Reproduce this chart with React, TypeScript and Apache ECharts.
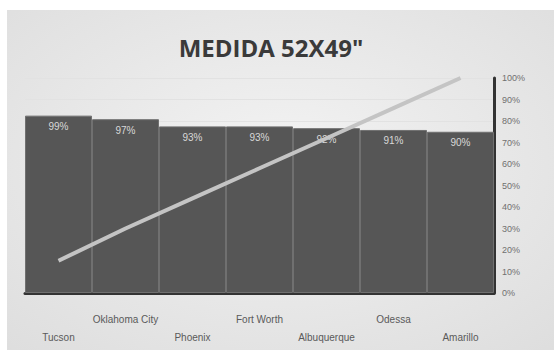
import React, { useEffect, useRef } from "react";
import * as echarts from "echarts";

const categories = ["Tucson", "Oklahoma City", "Phoenix", "Fort Worth", "Albuquerque", "Odessa", "Amarillo"];
const barValues = [99, 97, 93, 93, 92, 91, 90];
const cumulativePct = [15, 30, 44, 58, 72, 86, 100];
const titleText = 'MEDIDA 52X49"';

export default function App() {
  const ref = useRef<HTMLDivElement>(null);
  useEffect(() => {
    if (!ref.current) return;
    const chart = echarts.init(ref.current, null, { renderer: "svg" });
    chart.setOption({
      animation: false,
      backgroundColor: {
        type: "radial",
        x: 0.5,
        y: 0.45,
        r: 0.8,
        colorStops: [
          { offset: 0, color: "#f3f3f3" },
          { offset: 1, color: "#dcdcdc" },
        ],
      },
      title: {
        text: titleText,
        left: 259,
        top: 20,
        textAlign: "center",
        textStyle: {
          fontFamily: "Open Sans",
          fontWeight: "bold",
          fontSize: 24,
          color: "#3a3a3a",
        },
      },
      grid: { left: 18, right: 60, top: 68, bottom: 57, outerBoundsMode: "none", containLabel: false },
      xAxis: {
        type: "category",
        data: categories,
        axisLine: { show: true, lineStyle: { color: "#333", width: 3 } },
        axisTick: { show: false },
        axisLabel: {
          interval: 0,
          margin: 21,
          formatter: (v: string, i: number) => (i % 2 === 0 ? `{low|${v}}` : `{high|${v}}`),
          rich: {
            low: { fontSize: 10, color: "#5a5a5a", fontFamily: "Liberation Sans", padding: [18, 0, 0, 0] },
            high: { fontSize: 10, color: "#5a5a5a", fontFamily: "Liberation Sans" },
          },
        },
      },
      yAxis: [
        {
          type: "value",
          min: 0,
          max: 120,
          show: false,
          splitLine: { show: false },
        },
        {
          type: "value",
          min: 0,
          max: 100,
          interval: 10,
          position: "right",
          axisLine: { show: true, lineStyle: { color: "#333", width: 3 } },
          axisTick: { show: false },
          splitLine: { show: true, lineStyle: { color: "#e2e2e2", width: 1 } },
          axisLabel: {
            formatter: "{value}%",
            fontSize: 9,
            color: "#707070",
            margin: 8,
            fontFamily: "Liberation Sans",
          },
        },
      ],
      series: [
        {
          type: "bar",
          data: barValues,
          yAxisIndex: 0,
          barCategoryGap: "0%",
          itemStyle: { color: "#565656", borderColor: "#707070", borderWidth: 1 },
          label: {
            show: true,
            position: "insideTop",
            distance: 6,
            formatter: "{c}%",
            fontSize: 10,
            color: "#d8d8d8",
            fontFamily: "Liberation Sans",
          },
        },
        {
          type: "line",
          data: cumulativePct,
          yAxisIndex: 1,
          showSymbol: false,
          symbol: "none",
          lineStyle: { color: "#c4c4c4", width: 4 },
          z: 5,
        },
      ],
    });
    return () => chart.dispose();
  }, []);
  return (
    <div style={{ position: "fixed", left: 0, top: 0, width: 554, height: 350, background: "#fff" }}>
      <div ref={ref} style={{ position: "absolute", left: 7, top: 10, width: 547, height: 340 }} />
    </div>
  );
}
